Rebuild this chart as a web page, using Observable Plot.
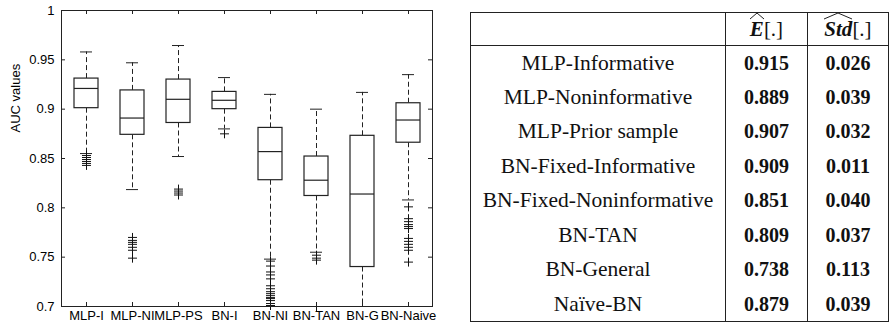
<!DOCTYPE html>
<html>
<head>
<meta charset="utf-8">
<script src="https://cdn.jsdelivr.net/npm/d3@7"></script>
<script src="https://cdn.jsdelivr.net/npm/@observablehq/plot@0.6"></script>
<style>
  html, body { margin: 0; padding: 0; background: #fff; }
  #wrap { position: relative; width: 893px; height: 326px; overflow: hidden; background: #fff; }
  #chart { position: absolute; left: 0; top: 0; }
  #tbl { position: absolute; left: 470px; top: 12px; width: 418px; border-collapse: collapse; table-layout: fixed;
         font-family: 'Liberation Serif', 'Times New Roman', serif; color: #111; border: 1.5px solid #222; }
  #tbl td, #tbl th { padding: 0; text-align: center; vertical-align: middle; font-weight: normal; }
  #tbl tr.head { height: 33px; }
  #tbl tr.head th { border-bottom: 1.5px solid #222; font-size: 21px; }
  #tbl tr.row { height: 34.5px; }
  #tbl .c2, #tbl .c3 { border-left: 1px solid #222; }
  #tbl td.c1 { font-size: 21.5px; }
  #tbl td.c2, #tbl td.c3 { font-size: 20px; font-weight: bold; }
  .hat { position: relative; display: inline-block; }
  .hat svg { position: absolute; left: 0; top: -4px; width: 100%; height: 6px; overflow: visible; }
</style>
</head>
<body>
<div id="wrap">
  <div id="chart"></div>
  <table id="tbl"></table>
</div>
<script>
// ---- Box plot data ----
const categories = ["MLP-I", "MLP-NI", "MLP-PS", "BN-I", "BN-NI", "BN-TAN", "BN-G", "BN-Naive"];
const whiskerHigh = [0.958, 0.947, 0.9645, 0.932, 0.915, 0.900, 0.917, 0.935];
const q3Values    = [0.931, 0.919, 0.930, 0.9175, 0.881, 0.852, 0.873, 0.906];
const medians     = [0.921, 0.891, 0.910, 0.909, 0.857, 0.828, 0.814, 0.889];
const q1Values    = [0.901, 0.874, 0.886, 0.900, 0.828, 0.812, 0.740, 0.866];
const whiskerLow  = [0.855, 0.8185, 0.852, 0.880, 0.748, 0.755, 0.69, 0.808];
const outliersMLP_I   = [0.853, 0.851, 0.849, 0.847, 0.845, 0.843];
const outliersMLP_NI  = [0.770, 0.767, 0.765, 0.763, 0.760, 0.757, 0.749];
const outliersMLP_PS  = [0.819, 0.817, 0.815, 0.813];
const outliersBN_I    = [0.875];
const outliersBN_NI   = [0.746, 0.741, 0.735, 0.732, 0.728, 0.721, 0.718, 0.715, 0.713, 0.711, 0.709, 0.708, 0.706, 0.703, 0.701];
const outliersBN_TAN  = [0.752, 0.749, 0.747, 0.700];
const outliersBN_G    = [];
const outliersBN_Naive = [0.801, 0.789, 0.786, 0.783, 0.781, 0.779, 0.769, 0.766, 0.763, 0.760, 0.757, 0.745];
const yTickValues = [0.7, 0.75, 0.8, 0.85, 0.9, 0.95, 1];
const yTickLabels = ["0.7", "0.75", "0.8", "0.85", "0.9", "0.95", "1"];
const yLabel = "AUC values";

// ---- Table data ----
const tableModels = ["MLP-Informative", "MLP-Noninformative", "MLP-Prior sample", "BN-Fixed-Informative",
                     "BN-Fixed-Noninformative", "BN-TAN", "BN-General", "Naïve-BN"];
const tableMean = ["0.915", "0.889", "0.907", "0.909", "0.851", "0.809", "0.738", "0.879"];
const tableStd  = ["0.026", "0.039", "0.032", "0.011", "0.040", "0.037", "0.113", "0.039"];

// ---- Build records ----
const boxes = categories.map((c, i) => ({
  cat: c, lo: whiskerLow[i], q1: q1Values[i], med: medians[i], q3: q3Values[i], hi: whiskerHigh[i]
}));
const outlierLists = [outliersMLP_I, outliersMLP_NI, outliersMLP_PS, outliersBN_I, outliersBN_NI, outliersBN_TAN, outliersBN_G, outliersBN_Naive];
const outliers = outlierLists.flatMap((arr, i) => arr.map(v => ({cat: categories[i], v})));

const W = 445, H = 326;
const mL = 61, mR = 13, mT = 10, mB = 20;
const innerW = W - mL - mR, innerH = H - mT - mB;
const tickLen = 4;
const ink = "#222";

const plot = Plot.plot({
  width: W, height: H,
  marginLeft: mL, marginRight: mR, marginTop: mT, marginBottom: mB,
  style: { fontFamily: "'Liberation Sans', Arial, sans-serif", fontSize: "13px", color: "#000", background: "transparent" },
  x: { type: "band", domain: categories, paddingInner: 0.484, paddingOuter: 0.242 },
  y: { domain: [0.7, 1] },
  marks: [
    // whiskers
    Plot.ruleX(boxes, { x: "cat", y1: "q3", y2: "hi", stroke: ink, strokeWidth: 1, strokeDasharray: "5,3" }),
    Plot.ruleX(boxes, { x: "cat", y1: "q1", y2: "lo", stroke: ink, strokeWidth: 1, strokeDasharray: "5,3", clip: true }),
    // caps
    Plot.tickY(boxes.filter(d => d.hi <= 1), { x: "cat", y: "hi", stroke: ink, insetLeft: 6, insetRight: 6 }),
    Plot.tickY(boxes.filter(d => d.lo >= 0.7), { x: "cat", y: "lo", stroke: ink, insetLeft: 6, insetRight: 6 }),
    // boxes
    Plot.barY(boxes, { x: "cat", y1: "q1", y2: "q3", fill: "white", stroke: ink, strokeWidth: 1.2 }),
    // medians
    Plot.tickY(boxes, { x: "cat", y: "med", stroke: ink, strokeWidth: 1.2 }),
    // outliers
    Plot.dot(outliers, { x: "cat", y: "v", symbol: "plus", r: 3, stroke: "#111", strokeWidth: 1 }),
    // frame + inward ticks on all sides
    Plot.frame({ stroke: ink, strokeWidth: 1 }),
    Plot.ruleX(categories, { x: d => d, insetTop: innerH - tickLen, stroke: ink }),
    Plot.ruleX(categories, { x: d => d, insetBottom: innerH - tickLen, stroke: ink }),
    Plot.ruleY(yTickValues, { y: d => d, insetRight: innerW - tickLen, stroke: ink }),
    Plot.ruleY(yTickValues, { y: d => d, insetLeft: innerW - tickLen, stroke: ink }),
    // axes labels
    Plot.axisX({ tickSize: 0, tickPadding: 4, label: null, fontSize: 13, fill: "#000" }),
    Plot.axisY({ ticks: yTickValues, tickSize: 0, tickPadding: 7, label: null, fontSize: 13, fill: "#000",
                 tickFormat: d => yTickLabels[yTickValues.indexOf(d)] }),
    Plot.text([yLabel], { text: d => d, frameAnchor: "left", rotate: -90, dx: -46, dy: -26, fontSize: 13, fill: "#000" })
  ]
});
document.getElementById("chart").appendChild(plot);

// ---- Table ----
const hat = '<svg viewBox="0 0 10 5" preserveAspectRatio="none"><polyline points="0,5 5,0 10,5" fill="none" stroke="#222" stroke-width="1" vector-effect="non-scaling-stroke"/></svg>';
const tbl = document.getElementById("tbl");
let html = '<colgroup><col style="width:255px"><col style="width:82px"><col style="width:81px"></colgroup>';
html += '<tr class="head"><th class="c1"></th>' +
        '<th class="c2"><span class="hat"><i><b>E</b></i>' + hat + '</span>[.]</th>' +
        '<th class="c3"><span class="hat"><i><b>Std</b></i>' + hat + '</span>[.]</th></tr>';
tableModels.forEach((m, i) => {
  html += '<tr class="row"><td class="c1">' + m + '</td><td class="c2">' + tableMean[i] + '</td><td class="c3">' + tableStd[i] + '</td></tr>';
});
tbl.innerHTML = html;
</script>
</body>
</html>
